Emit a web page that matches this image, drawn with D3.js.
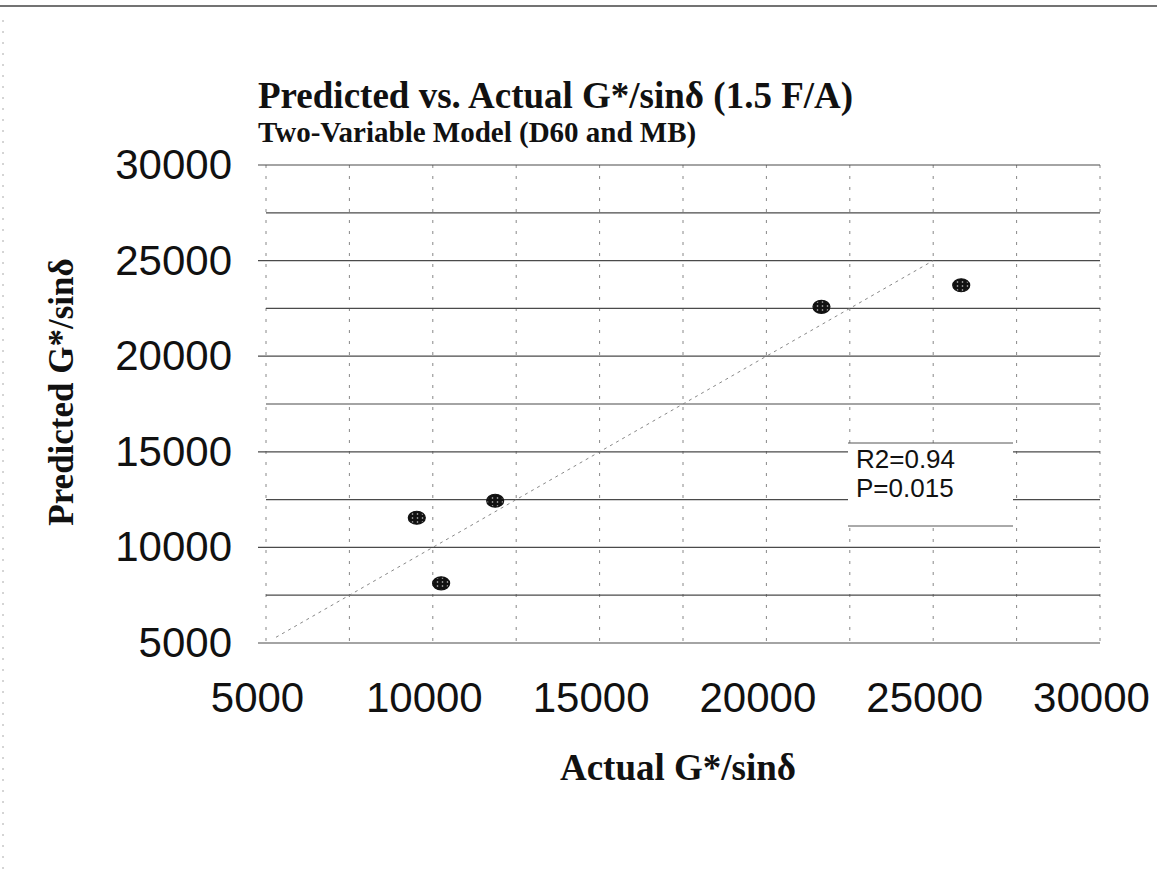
<!DOCTYPE html>
<html>
<head>
<meta charset="utf-8">
<script src="https://cdn.jsdelivr.net/npm/d3@7"></script>
<style>
  body { margin: 0; background: #fff; }
  svg { display: block; }
</style>
</head>
<body>
<div id="chart"></div>
<script>
// data
const actual    = [9520, 10250, 11870, 21650, 25840];
const predicted = [11550, 8120, 12440, 22580, 23710];
const axisTicks = [5000, 10000, 15000, 20000, 25000, 30000];
const gridTicks = [5000, 7500, 10000, 12500, 15000, 17500, 20000, 22500, 25000, 27500, 30000];
const fitLine   = [5300, 25000];
const statsText = ["R2=0.94", "P=0.015"];

const width = 1157, height = 875;
const margin = {top: 165, right: 57, bottom: 232, left: 266};

const svg = d3.select("#chart").append("svg")
  .attr("width", width)
  .attr("height", height);

const x = d3.scaleLinear().domain([5000, 30000]).range([margin.left, width - margin.right]);
const y = d3.scaleLinear().domain([5000, 30000]).range([height - margin.bottom, margin.top]);

// scan border
svg.append("line")
  .attr("x1", 0).attr("x2", width).attr("y1", 6).attr("y2", 6)
  .attr("stroke", "#444").attr("stroke-width", 1.5);
svg.append("line")
  .attr("x1", 3).attr("x2", 3).attr("y1", 20).attr("y2", height)
  .attr("stroke", "#aaa").attr("stroke-dasharray", "2,9");

// dot pattern for the markers
const defs = svg.append("defs");
const pat = defs.append("pattern")
  .attr("id", "dots")
  .attr("patternUnits", "userSpaceOnUse")
  .attr("width", 5).attr("height", 4);
pat.append("rect").attr("width", 5).attr("height", 4).attr("fill", "#111");
pat.append("circle").attr("cx", 2.5).attr("cy", 2).attr("r", 0.8).attr("fill", "#ccc");

// vertical grid (faint, dashed)
svg.append("g")
  .selectAll("line")
  .data(gridTicks)
  .join("line")
  .attr("x1", d => x(d)).attr("x2", d => x(d))
  .attr("y1", y(30000)).attr("y2", y(5000) + 6)
  .attr("stroke", "#888")
  .attr("stroke-width", 1)
  .attr("stroke-dasharray", "3,8");

// horizontal grid
svg.append("g")
  .selectAll("line")
  .data(gridTicks)
  .join("line")
  .attr("x1", d => axisTicks.includes(d) ? x(5000) - 8 : x(5000))
  .attr("x2", x(30000))
  .attr("y1", d => y(d)).attr("y2", d => y(d))
  .attr("stroke", "#4a4a4a")
  .attr("stroke-width", 1.2);

// y axis labels
svg.append("g")
  .attr("transform", "translate(" + (margin.left - 34) + ",0)")
  .call(d3.axisLeft(y).tickValues(axisTicks).tickSize(0).tickPadding(0).tickFormat(d3.format("d")))
  .call(g => g.select(".domain").remove())
  .selectAll("text")
  .attr("font-family", "Liberation Sans, Arial, sans-serif")
  .attr("font-size", 42)
  .attr("fill", "#111");

// x axis labels (sit a little left of their gridlines in the scan)
svg.append("g")
  .attr("transform", "translate(-9," + (y(5000) + 39) + ")")
  .call(d3.axisBottom(x).tickValues(axisTicks).tickSize(0).tickPadding(0).tickFormat(d3.format("d")))
  .call(g => g.select(".domain").remove())
  .selectAll("text")
  .attr("font-family", "Liberation Sans, Arial, sans-serif")
  .attr("font-size", 42)
  .attr("fill", "#111");

// 1:1 line
svg.append("line")
  .attr("x1", x(fitLine[0])).attr("y1", y(fitLine[0]))
  .attr("x2", x(fitLine[1])).attr("y2", y(fitLine[1]))
  .attr("stroke", "#888")
  .attr("stroke-width", 1)
  .attr("stroke-dasharray", "3,4");

// stats box
const box = {x0: 848, x1: 1013, y0: 443, y1: 526};
svg.append("rect")
  .attr("x", box.x0).attr("y", box.y0)
  .attr("width", box.x1 - box.x0).attr("height", box.y1 - box.y0)
  .attr("fill", "#fff");
svg.append("g").selectAll("line")
  .data([box.y0, box.y1])
  .join("line")
  .attr("x1", box.x0).attr("x2", box.x1)
  .attr("y1", d => d).attr("y2", d => d)
  .attr("stroke", "#555").attr("stroke-width", 1);
svg.append("g").selectAll("text")
  .data(statsText)
  .join("text")
  .attr("x", 856)
  .attr("y", (d, i) => 468 + i * 29)
  .attr("font-family", "Liberation Sans, Arial, sans-serif")
  .attr("font-size", 26)
  .attr("fill", "#111")
  .text(d => d);

// points
svg.append("g")
  .selectAll("ellipse")
  .data(actual.map((a, i) => [a, predicted[i]]))
  .join("ellipse")
  .attr("cx", d => x(d[0]))
  .attr("cy", d => y(d[1]))
  .attr("rx", 8.5).attr("ry", 6.5)
  .attr("fill", "url(#dots)")
  .attr("stroke", "#111").attr("stroke-width", 1.2);

// titles
const serif = "Liberation Serif, Times New Roman, serif";
svg.append("text")
  .attr("x", 258).attr("y", 108)
  .attr("font-family", serif).attr("font-weight", "bold")
  .attr("font-size", 37).attr("fill", "#111")
  .text("Predicted vs. Actual G*/sinδ (1.5 F/A)");
svg.append("text")
  .attr("x", 258).attr("y", 142)
  .attr("font-family", serif).attr("font-weight", "bold")
  .attr("font-size", 29).attr("fill", "#111")
  .text("Two-Variable Model (D60 and MB)");

svg.append("text")
  .attr("x", 678).attr("y", 780)
  .attr("text-anchor", "middle")
  .attr("font-family", serif).attr("font-weight", "bold")
  .attr("font-size", 37).attr("fill", "#111")
  .text("Actual G*/sinδ");

svg.append("text")
  .attr("transform", "translate(73,392) rotate(-90)")
  .attr("text-anchor", "middle")
  .attr("font-family", serif).attr("font-weight", "bold")
  .attr("font-size", 35).attr("fill", "#111")
  .text("Predicted G*/sinδ");
</script>
</body>
</html>
